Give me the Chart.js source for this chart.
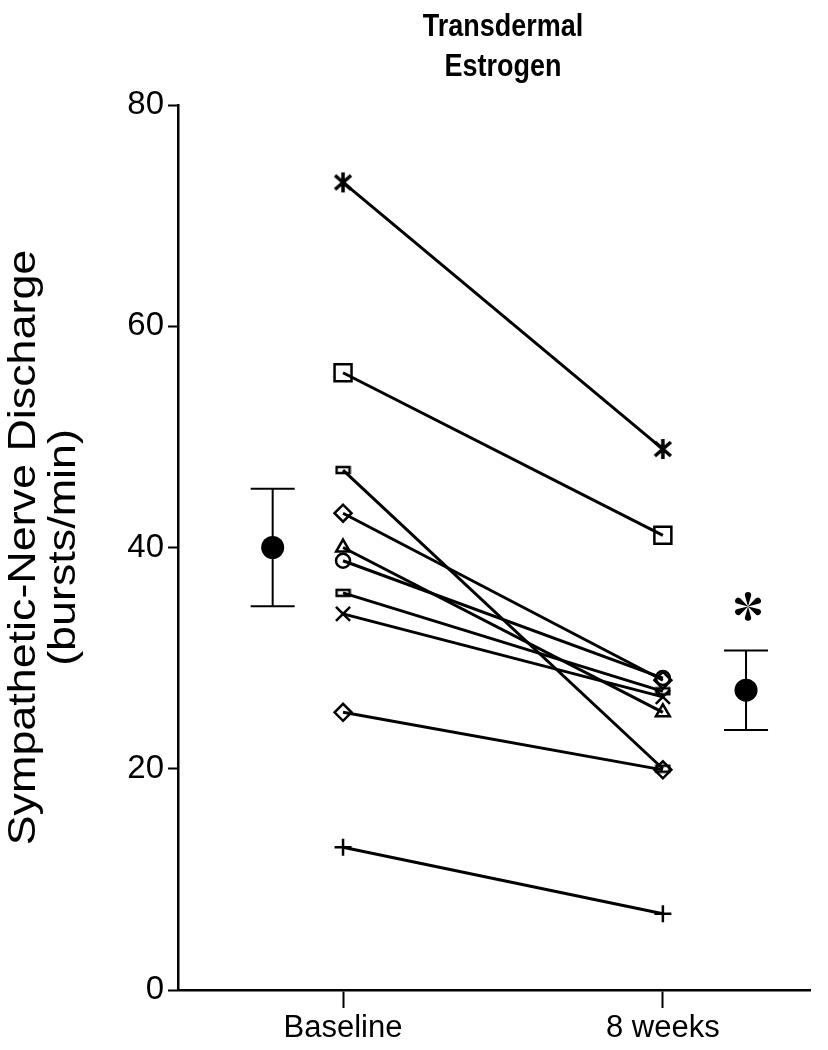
<!DOCTYPE html>
<html>
<head>
<meta charset="utf-8">
<script src="https://cdn.jsdelivr.net/npm/chart.js@4.4.1/dist/chart.umd.min.js"></script>
<style>
html, body { margin: 0; padding: 0; background: #fff; }
#wrap { width: 828px; height: 1050px; }
</style>
</head>
<body>
<div id="wrap"><canvas id="c" width="828" height="1050"></canvas></div>
<script>
// data
const categories = ['Baseline', '8 weeks'];
const baseline = [73.0, 55.8, 47.0, 43.1, 40.0, 38.8, 35.9, 34.0, 25.1, 12.9];
const week8    = [48.9, 41.1, 20.0, 28.0, 25.1, 28.2, 27.0, 26.5, 19.9, 6.9];
const markers  = ['asterisk', 'square', 'flatRect', 'diamond', 'triangle', 'circle', 'flatRect', 'x', 'diamond', 'plus'];
const meanValues = [40.0, 27.1];
const meanErrors = [5.3, 3.6];
const yTicks = [0, 20, 40, 60, 80];
const yTitle = ['Sympathetic-Nerve Discharge', '(bursts/min)'];
const chartTitle = ['Transdermal', 'Estrogen'];

// where the group means sit, left of baseline / right of 8 weeks
const meanX = [0.78, 2.26];

const FONT = '"Liberation Sans", Arial, Helvetica, sans-serif';

function makeAsterisk() {
  const c = document.createElement('canvas');
  c.width = 22; c.height = 22;
  const g = c.getContext('2d');
  g.strokeStyle = '#000'; g.lineWidth = 3.5;
  g.beginPath();
  g.moveTo(11, 1); g.lineTo(11, 21);
  g.moveTo(3, 4); g.lineTo(19, 18);
  g.moveTo(3, 18); g.lineTo(19, 4);
  g.stroke();
  return c;
}
function makeFlatRect() {
  const c = document.createElement('canvas');
  c.width = 17; c.height = 10;
  const g = c.getContext('2d');
  g.strokeStyle = '#000'; g.lineWidth = 2.5;
  g.strokeRect(2, 2, 13, 6);
  return c;
}
const asteriskImg = makeAsterisk();
const flatRectImg = makeFlatRect();

function markerStyle(m) {
  switch (m) {
    case 'asterisk': return { pointStyle: asteriskImg, pointRadius: 11 };
    case 'square':   return { pointStyle: 'rect', pointRadius: 12 };
    case 'flatRect': return { pointStyle: flatRectImg, pointRadius: 8 };
    case 'diamond':  return { pointStyle: 'rectRot', pointRadius: 8.5 };
    case 'triangle': return { pointStyle: 'triangle', pointRadius: 8 };
    case 'circle':   return { pointStyle: 'circle', pointRadius: 7 };
    case 'x':        return { pointStyle: 'crossRot', pointRadius: 10 };
    case 'plus':     return { pointStyle: 'cross', pointRadius: 8.5 };
  }
}

const datasets = baseline.map((b, i) => Object.assign({
  type: 'line',
  data: [{ x: 1, y: b }, { x: 2, y: week8[i] }],
  borderColor: '#000',
  borderWidth: 3,
  tension: 0,
  pointBorderColor: '#000',
  pointBackgroundColor: 'rgba(0,0,0,0)',
  pointBorderWidth: 2.5,
  clip: false
}, markerStyle(markers[i])));

datasets.push({
  type: 'scatter',
  label: 'mean',
  data: meanValues.map((m, i) => ({ x: meanX[i], y: m })),
  pointRadius: 11.5,
  pointBackgroundColor: '#000',
  pointBorderColor: '#000',
  pointBorderWidth: 0,
  showLine: false,
  clip: false
});

// six-petal significance star
function drawStar(ctx, cx, cy, r) {
  ctx.save();
  ctx.translate(cx, cy);
  ctx.fillStyle = '#000';
  for (let k = 0; k < 6; k++) {
    ctx.save();
    ctx.rotate(k * Math.PI / 3);
    ctx.beginPath();
    ctx.moveTo(0, 0);
    ctx.quadraticCurveTo(-2, -r * 0.5, -3.2, -r * 0.8);
    ctx.arc(0, -r * 0.8, 3.2, Math.PI, 0);
    ctx.quadraticCurveTo(2, -r * 0.5, 0, 0);
    ctx.fill();
    ctx.restore();
  }
  ctx.restore();
}

// text stretched along one direction, like the scanned figure
function stretchedText(ctx, txt, x, y, sx, sy) {
  ctx.save();
  ctx.translate(x, y);
  ctx.scale(sx, sy);
  ctx.fillText(txt, 0, 0);
  ctx.restore();
}

const extras = {
  id: 'extras',
  beforeDatasetsDraw(chart) {
    const ctx = chart.ctx, xs = chart.scales.x, ys = chart.scales.y;
    ctx.save();
    ctx.strokeStyle = '#000';
    ctx.lineWidth = 2;
    meanValues.forEach((m, i) => {
      const px = xs.getPixelForValue(meanX[i]);
      const top = ys.getPixelForValue(m + meanErrors[i]);
      const bot = ys.getPixelForValue(m - meanErrors[i]);
      ctx.beginPath();
      ctx.moveTo(px, top); ctx.lineTo(px, bot);
      ctx.moveTo(px - 22, top); ctx.lineTo(px + 22, top);
      ctx.moveTo(px - 22, bot); ctx.lineTo(px + 22, bot);
      ctx.stroke();
    });
    ctx.restore();
  },
  afterDraw(chart) {
    const ctx = chart.ctx, xs = chart.scales.x, ys = chart.scales.y;
    const area = chart.chartArea;
    ctx.save();
    ctx.fillStyle = '#000';
    ctx.textAlign = 'center';
    ctx.textBaseline = 'middle';
    ctx.font = 'bold 27px ' + FONT;
    stretchedText(ctx, chartTitle[0], 503, 27, 1, 1.15);
    stretchedText(ctx, chartTitle[1], 503, 67, 1, 1.15);

    // y axis title, two rotated lines
    ctx.save();
    ctx.translate(0, (area.top + area.bottom) / 2);
    ctx.rotate(-Math.PI / 2);
    ctx.font = '38px ' + FONT;
    stretchedText(ctx, yTitle[0], 0, 25, 1.18, 1);
    stretchedText(ctx, yTitle[1], 0, 65, 1.18, 1);
    ctx.restore();

    // significance mark above the 8-week error bar
    const px = xs.getPixelForValue(meanX[1]);
    const top = ys.getPixelForValue(meanValues[1] + meanErrors[1]);
    drawStar(ctx, px + 2, top - 44, 14);
    ctx.restore();
  }
};

new Chart(document.getElementById('c'), {
  data: { datasets: datasets },
  options: {
    responsive: false,
    animation: false,
    layout: { padding: { top: 105, right: 18, left: 0, bottom: 0 } },
    plugins: { legend: { display: false }, tooltip: { enabled: false }, title: { display: false } },
    scales: {
      x: {
        type: 'linear',
        min: 0.484,
        max: 2.46,
        afterFit(scale) { scale.height = 60; },
        afterBuildTicks(scale) { scale.ticks = categories.map((c, i) => ({ value: i + 1 })); },
        ticks: {
          color: '#000',
          font: { family: FONT, size: 31 },
          padding: 2,
          maxRotation: 0,
          callback: (v) => categories[v - 1]
        },
        grid: { drawOnChartArea: false, drawTicks: true, tickLength: 18, tickWidth: 2, tickColor: '#000' },
        border: { display: true, color: '#000', width: 2.5 }
      },
      y: {
        type: 'linear',
        min: 0,
        max: 80,
        afterFit(scale) { scale.width = 178; },
        afterBuildTicks(scale) { scale.ticks = yTicks.map(v => ({ value: v })); },
        ticks: { color: '#000', font: { family: FONT, size: 33 }, padding: 4 },
        grid: { drawOnChartArea: false, drawTicks: true, tickLength: 10, tickWidth: 2, tickColor: '#000' },
        border: { display: true, color: '#000', width: 2.5 }
      }
    }
  },
  plugins: [extras]
});
</script>
</body>
</html>
